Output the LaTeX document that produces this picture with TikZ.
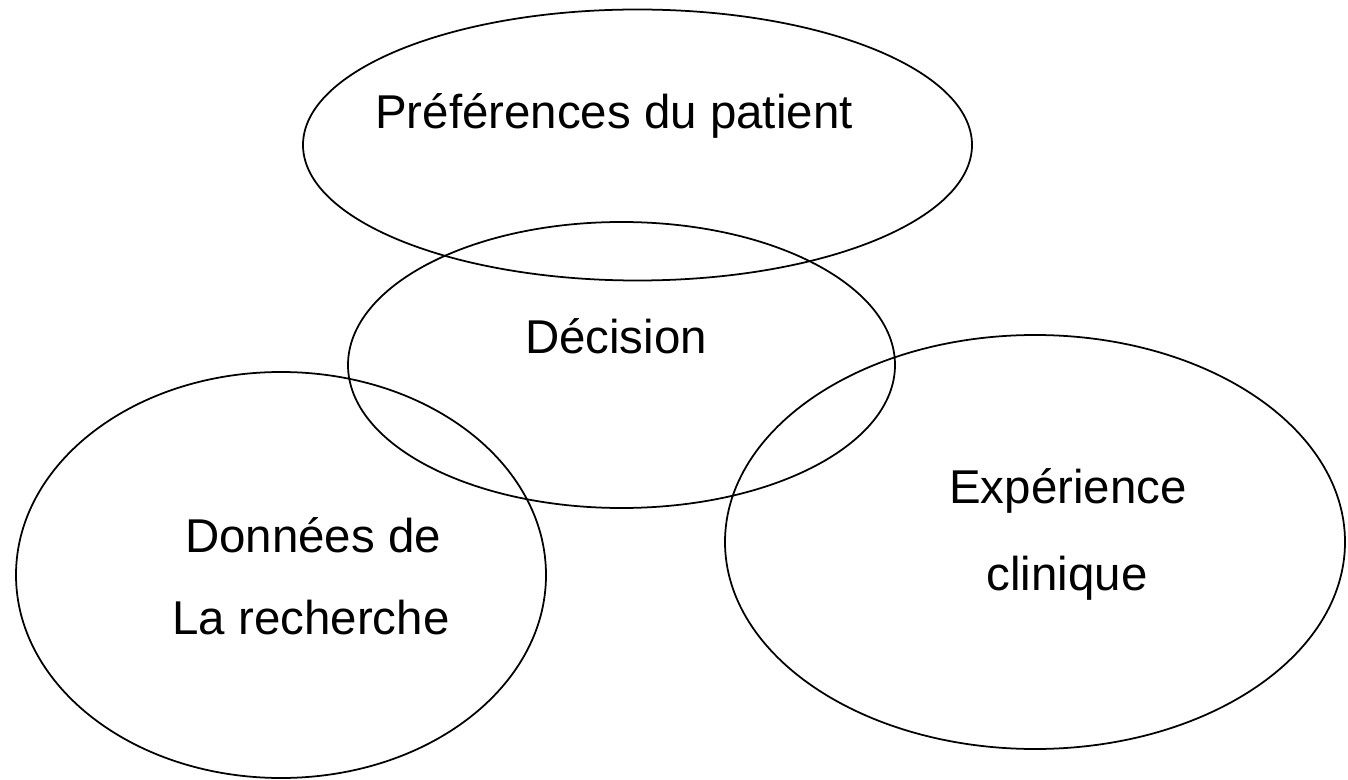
\documentclass[tikz,border=0pt]{standalone}
\usepackage{fontspec}
\setmainfont{Liberation Sans}
\usetikzlibrary{shapes.geometric}

\begin{document}
\begin{tikzpicture}[
    font=\fontsize{13.5}{16}\selectfont,
    pole/.style={
        ellipse, draw=black, line width=0.5pt, inner sep=0pt
    },
    word/.style={anchor=base, inner sep=0pt}
]

% ---- Canvas ----
\useasboundingbox (0,0) rectangle (13.48,7.79);

% ---- The four overlapping ellipses ----
\node[pole, minimum width=6.69cm, minimum height=2.71cm] (pref) at (6.375,6.34) {};
\node[pole, minimum width=5.47cm, minimum height=2.86cm] (dec)  at (6.215,4.14) {};
\node[pole, minimum width=5.30cm, minimum height=4.06cm] (donn) at (2.81,2.04)  {};
\node[pole, minimum width=6.20cm, minimum height=4.14cm] (expc) at (10.35,2.37) {};

% ---- Labels ----
\node[word] (preftxt) at (6.14,6.50)  {Préférences du patient};
\node[word] (dectxt)  at (6.16,4.26)  {Décision};
\node[word] (donna)   at (3.13,2.27)  {Données de};
\node[word] (donnb)   at (3.11,1.45)  {La recherche};
\node[word] (expa)    at (10.68,2.76) {Expérience};
\node[word] (expb)    at (10.67,1.89) {clinique};

\end{tikzpicture}
\end{document}
